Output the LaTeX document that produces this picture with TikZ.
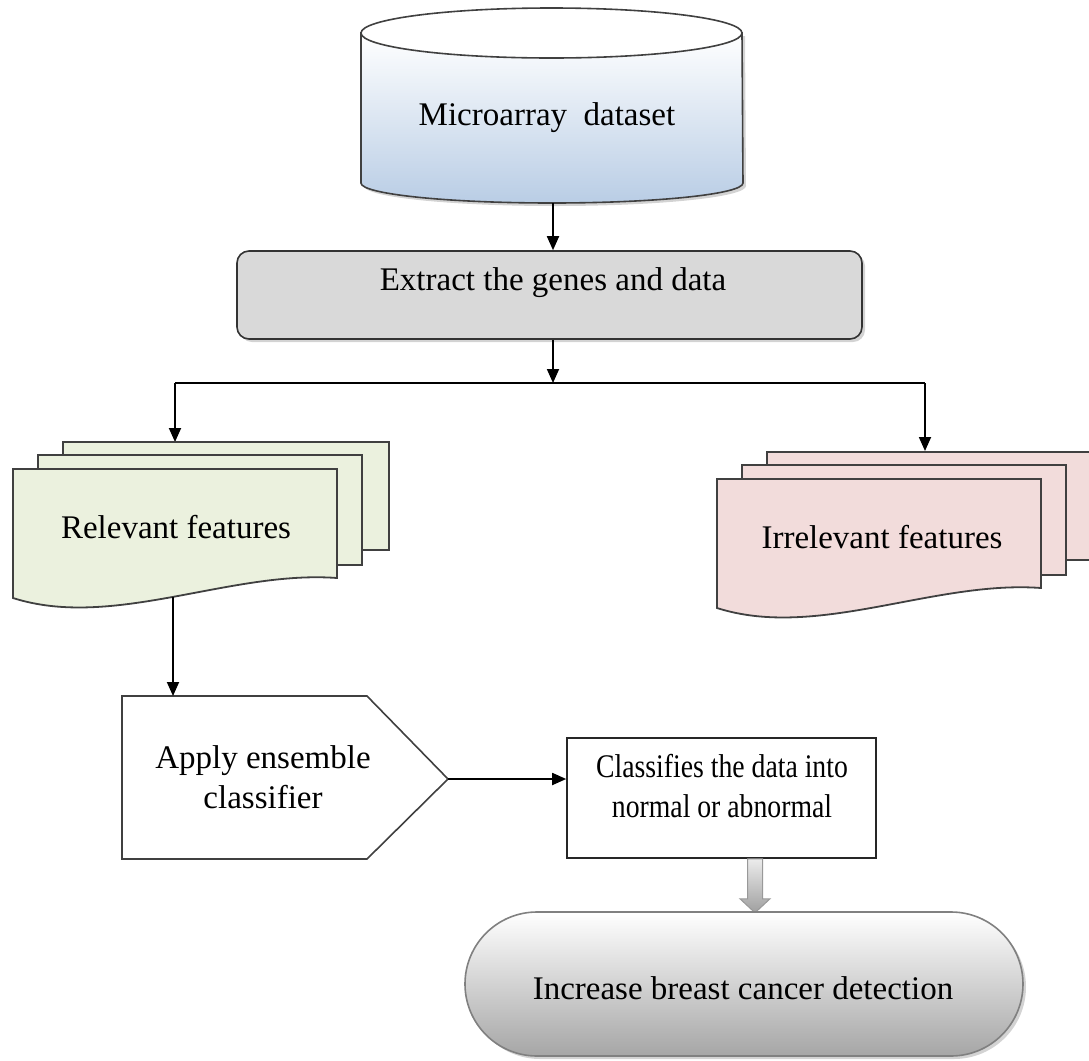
\documentclass[tikz,border=0pt]{standalone}
\usepackage{fontspec}
\setmainfont{Liberation Serif}
\usetikzlibrary{arrows.meta,shadows}
\definecolor{dbblue}{HTML}{B9CDE5}
\definecolor{relgreen}{HTML}{EBF1DE}
\definecolor{irrpink}{HTML}{F2DCDB}
\begin{document}
\begin{tikzpicture}[x=0.5pt,y=-0.5pt,
  every node/.style={font=\fontsize{16.5}{20}\selectfont, align=center},
  flow/.style={black, line width=0.9pt, -{Triangle[length=7pt,width=6pt]}},
  sheet/.style={draw=black!75, line width=0.9pt},
  softshadow/.style={drop shadow={opacity=0.35, shadow xshift=1.5pt, shadow yshift=-1.5pt}}]
\useasboundingbox (0,0) rectangle (1089,1061);

% database
\draw[draw=black!75, line width=0.8pt, top color=white, bottom color=dbblue, softshadow]
  (361,33) -- (361,183) arc[start angle=180, end angle=360, x radius=95.5pt, y radius=10pt] -- (742,33) -- cycle;
\draw[draw=black!75, line width=0.8pt, fill=white] (551.5,33) ellipse[x radius=95.25pt, y radius=12.5pt];
\node (db) at (547,118) {Microarray\ \ dataset};
\coordinate (dbbot) at (553,203);

% extract step
\node[draw=black!80, line width=0.8pt, fill=gray!30, rounded corners=6pt, minimum width=312.5pt, minimum height=44pt, softshadow] (extract) at (549.5,295) {};
\node (extracttxt) at (553,283) {Extract the genes and data};
\draw[flow] (dbbot) -- (dbbot |- extract.north);

% split into the two feature sets
\coordinate (split) at (553,383);
\coordinate (splitL) at (175,383);\coordinate (splitR) at (925,383);
\coordinate (reltop) at (175,442);\coordinate (irrtop) at (925,451);
\coordinate (relbot) at (173,597);
\draw[flow] (dbbot |- extract.south) -- (split);
\draw[line width=0.9pt] (splitL) -- (splitR);
\draw[flow] (splitL) -- (reltop);
\draw[flow] (splitR) -- (irrtop);

\foreach \fx/\fy/\col in {13/469/relgreen, 717/479/irrpink}{
  \draw[sheet, fill=\col] (\fx+50,\fy-27) rectangle (\fx+376,\fy+81);
  \draw[sheet, fill=\col] (\fx+25,\fy-14) rectangle (\fx+349,\fy+96);
  \draw[sheet, fill=\col] (\fx,\fy) -- (\fx+324,\fy) -- (\fx+324,\fy+109)
    .. controls (\fx+217,\fy+101) and (\fx+100,\fy+161) .. (\fx,\fy+129) -- cycle;
}
\node (rel) at (176,527) {Relevant features};
\node (irr) at (882,537) {Irrelevant features};

% classifier
\draw[draw=black!75, line width=0.8pt, fill=white] (122,696) -- (367,696) -- (448,779) -- (367,859) -- (122,859) -- cycle;
\coordinate (pentop) at (173,696);\coordinate (pentip) at (448,779);
\node (apply) at (263,777) {Apply ensemble\\classifier};
\draw[flow] (relbot) -- (pentop);

\node[draw=black!85, line width=0.8pt, fill=white, minimum width=154.5pt, minimum height=60pt] (cls) at (721.5,798) {};
\node[font=\fontsize{16.5}{20}\selectfont\addfontfeatures{FakeStretch=0.84}] (clstxt) at (722,786) {Classifies the data into\\normal or abnormal};
\draw[flow] (pentip) -- (pentip -| cls.west);

% result
\path (cls.south) ++(33.5,0) coordinate (fattop);
\begin{scope}[shift={(fattop)}]
\draw[gray!80, line width=0.5pt, top color=gray!15, bottom color=gray!75]
  (-7.5,0) -- (7.5,0) -- (7.5,40) -- (15,40) -- (0,54) -- (-15,40) -- (-7.5,40) -- cycle;
\end{scope}
\node[draw=gray, line width=0.8pt, top color=white, bottom color=gray!70, rounded corners=36pt, minimum width=279pt, minimum height=72pt, softshadow] (detect) at (744,984) {};
\node (detecttxt) at (743,988) {Increase breast cancer detection};
\end{tikzpicture}
\end{document}
